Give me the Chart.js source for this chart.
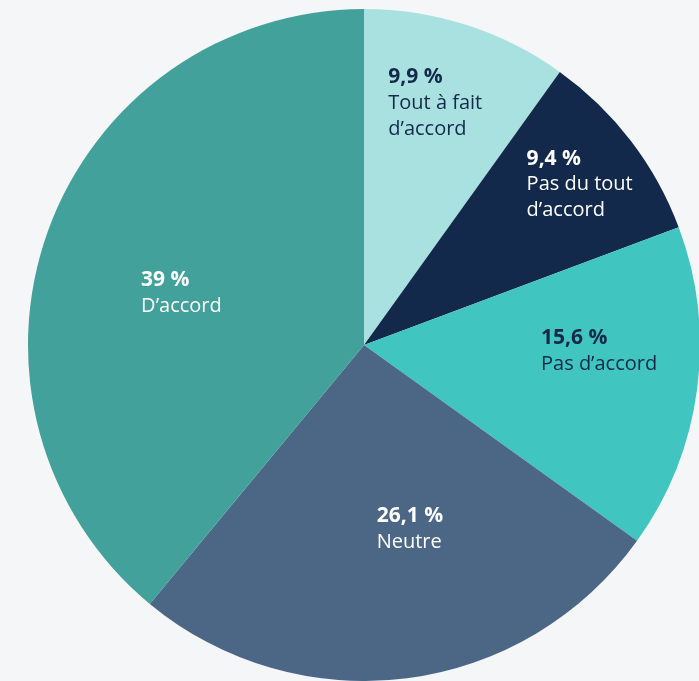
<!DOCTYPE html>
<html>
<head>
<meta charset="utf-8">
<script src="https://cdn.jsdelivr.net/npm/chart.js@4"></script>
<style>
  html, body { margin: 0; padding: 0; background: #f4f6f8; overflow: hidden; }
  #wrap { position: absolute; left: 0; top: 0; width: 728px; height: 681px; }
</style>
</head>
<body>
<div id="wrap"><canvas id="pie"></canvas></div>
<script>
// Data
const shares = [9.9, 9.4, 15.6, 26.1, 39];
const valueLabels = ['9,9 %', '9,4 %', '15,6 %', '26,1 %', '39 %'];
const categories = [['Tout à fait', 'd’accord'], ['Pas du tout', 'd’accord'], ['Pas d’accord'], ['Neutre'], ['D’accord']];

// Styles
const sliceColors = ['#a9e1e1', '#13294b', '#40c5c0', '#4c6786', '#42a19a'];
const textColors = ['#13294b', '#ffffff', '#13294b', '#ffffff', '#ffffff'];
// radial fraction and angle nudge (degrees) for each label block
const labelRadius = [0.75, 0.80, 0.70, 0.565, 0.565];
const labelNudge = [-1.4, 0.8, -6, -6.6, -3.9];

const FONT = "'Open Sans', Lato, sans-serif";
const BOLD = '700 21px ' + FONT;
const REGULAR = '400 20px ' + FONT;
const LINE = 26;

// Draws the value + category text inside each slice
const sliceLabels = {
    id: 'sliceLabels',
    afterDatasetsDraw(chart) {
        const ctx = chart.ctx;
        const arcs = chart.getDatasetMeta(0).data;
        ctx.save();
        ctx.textBaseline = 'middle';
        ctx.textAlign = 'left';
        arcs.forEach((arc, i) => {
            const p = arc.getProps(['x', 'y', 'startAngle', 'endAngle', 'outerRadius'], true);
            const mid = (p.startAngle + p.endAngle) / 2 + labelNudge[i] * Math.PI / 180;
            const r = p.outerRadius * labelRadius[i];
            const cx = p.x + Math.cos(mid) * r;
            const cy = p.y + Math.sin(mid) * r;

            const lines = [valueLabels[i], ...categories[i]];
            let w = 0;
            lines.forEach((t, k) => {
                ctx.font = k === 0 ? BOLD : REGULAR;
                w = Math.max(w, ctx.measureText(t).width);
            });
            const left = cx - w / 2;
            const top = cy - (lines.length - 1) * LINE / 2;
            ctx.fillStyle = textColors[i];
            lines.forEach((t, k) => {
                ctx.font = k === 0 ? BOLD : REGULAR;
                ctx.fillText(t, left, top + k * LINE);
            });
        });
        ctx.restore();
    }
};

new Chart(document.getElementById('pie'), {
    type: 'pie',
    data: {
        labels: categories.map(c => c.join(' ')),
        datasets: [{
            data: shares,
            backgroundColor: sliceColors,
            borderWidth: 0
        }]
    },
    options: {
        responsive: true,
        maintainAspectRatio: false,
        animation: false,
        layout: { padding: { left: 28, right: 28, top: 9, bottom: 0 } },
        plugins: {
            legend: { display: false },
            tooltip: { enabled: false }
        }
    },
    plugins: [sliceLabels]
});
</script>
</body>
</html>
